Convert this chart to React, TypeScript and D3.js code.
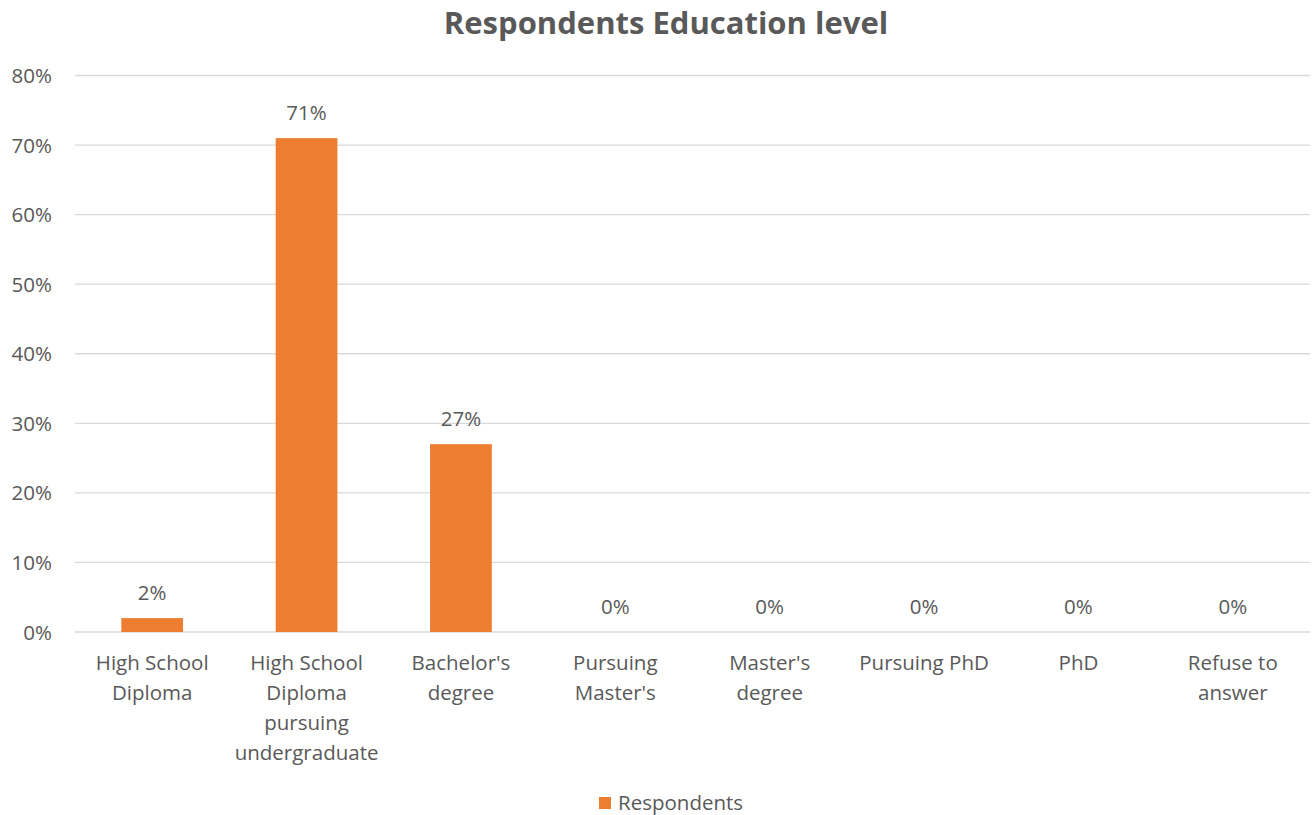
import React from "react";
import * as d3 from "d3";

const categories: string[][] = [
  ["High School", "Diploma"],
  ["High School", "Diploma", "pursuing", "undergraduate"],
  ["Bachelor's", "degree"],
  ["Pursuing", "Master's"],
  ["Master's", "degree"],
  ["Pursuing PhD"],
  ["PhD"],
  ["Refuse to", "answer"],
];
const values: number[] = [2, 71, 27, 0, 0, 0, 0, 0];
const yTicks: number[] = [0, 10, 20, 30, 40, 50, 60, 70, 80];
const seriesName = "Respondents";
const title = "Respondents Education level";

const W = 1312;
const H = 815;
const FONT = "'Open Sans', Lato, sans-serif";
const TEXT = "#595959";
const ORANGE = "#ED7D31";
const GRID = "#D9D9D9";

export default function App() {
  const keys = categories.map((_, i) => String(i));
  const x = d3.scaleBand<string>().domain(keys).range([75, 1310]).paddingInner(0.6).paddingOuter(0.3);
  const y = d3.scaleLinear().domain([0, 80]).range([632, 75.5]);

  return (
    <svg width={W} height={H} style={{ position: "absolute", left: 0, top: 0, background: "#fff" }}>
      <rect x={0} y={0} width={W} height={H} fill="#fff" />
      <text x={666} y={34} textAnchor="middle" fontFamily={FONT} fontWeight="bold" fontSize={31} fill={TEXT}>
        {title}
      </text>
      {yTicks.map((t) => (
        <g key={t}>
          <line x1={75} x2={1310} y1={y(t)} y2={y(t)} stroke={GRID} strokeWidth={t === 0 ? 1.5 : 1.3} />
          <text x={52} y={y(t) + 7.5} textAnchor="end" fontFamily={FONT} fontSize={20.5} fill={TEXT}>
            {t}%
          </text>
        </g>
      ))}
      {values.map((v, i) => {
        const bx = x(String(i))!;
        const bw = x.bandwidth();
        return (
          <g key={i}>
            {v > 0 && <rect x={bx} y={y(v)} width={bw} height={y(0) - y(v)} fill={ORANGE} />}
            <text x={bx + bw / 2} y={y(v) - 18} textAnchor="middle" fontFamily={FONT} fontSize={20.5} fill={TEXT}>
              {v}%
            </text>
            {categories[i].map((line, j) => (
              <text key={j} x={bx + bw / 2} y={670 + j * 30} textAnchor="middle" fontFamily={FONT} fontSize={20.5} fill={TEXT}>
                {line}
              </text>
            ))}
          </g>
        );
      })}
      <rect x={599} y={797} width={12} height={12} fill={ORANGE} />
      <text x={618} y={810} fontFamily={FONT} fontSize={20.5} fill={TEXT}>
        {seriesName}
      </text>
    </svg>
  );
}
